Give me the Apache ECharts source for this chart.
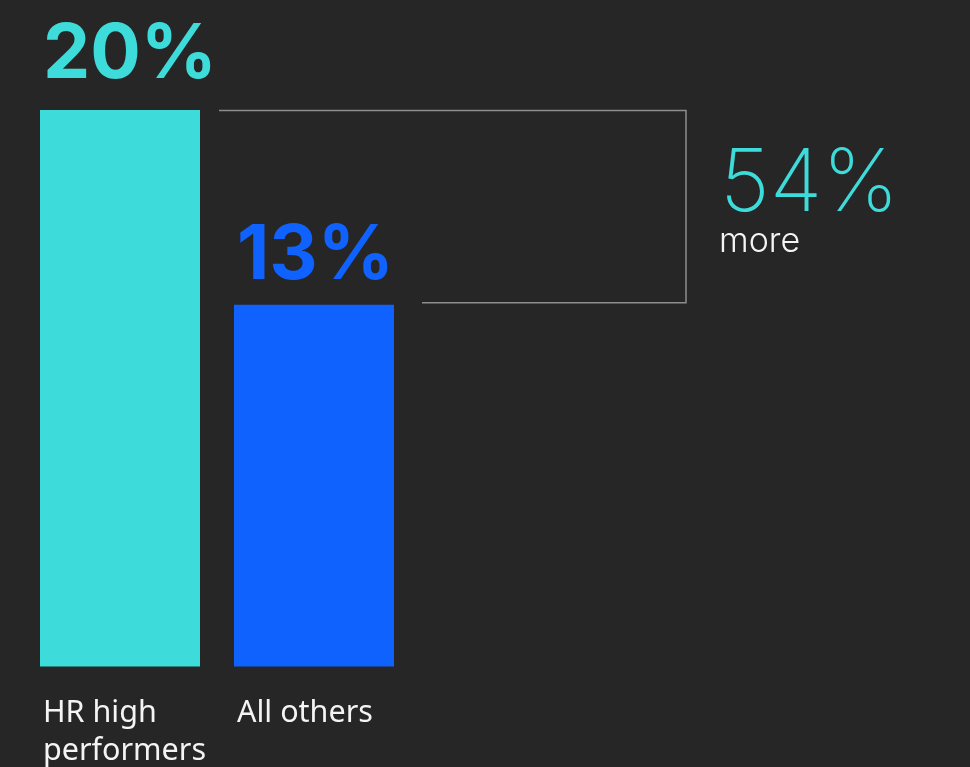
<!DOCTYPE html>
<html style="height: 100%">
  <head>
    <meta charset="utf-8">
  </head>
  <body style="height: 100%; margin: 0; background: #262626">
    <div id="container" style="height: 767px; width: 970px"></div>
    <script type="text/javascript" src="https://cdn.jsdelivr.net/npm/echarts/dist/echarts.min.js"></script>
    <script type="text/javascript">
var categories = ['HR high\nperformers', 'All others'];
var shares = [20, 13];
var barColors = ['#3ddbd9', '#0f62fe'];

var dom = document.getElementById('container');
var myChart = echarts.init(dom);

// how much more, from the two shares
var morePct = Math.round((shares[0] / shares[1] - 1) * 100);

var option = {
    backgroundColor: '#262626',
    animation: false,
    grid: {
        top: 110,
        bottom: 96,
        left: 23,
        width: 388
    },
    xAxis: {
        type: 'category',
        data: categories,
        axisLine: {show: false},
        axisTick: {show: false},
        axisLabel: {
            margin: 28,
            align: 'center',
            formatter: function (v) {
                return v.split('\n').map(function (s) { return '{a|' + s + '}'; }).join('\n');
            },
            rich: {
                a: {
                    width: 160,
                    align: 'left',
                    padding: [0, 0, 0, 6],
                    color: '#f4f4f4',
                    fontFamily: 'Noto Sans',
                    fontSize: 30.5,
                    lineHeight: 38
                }
            }
        }
    },
    yAxis: {
        type: 'value',
        min: 0,
        max: 20,
        show: false
    },
    series: [{
        type: 'bar',
        barWidth: 160,
        data: shares.map(function (v, i) {
            return {
                value: v,
                itemStyle: {color: barColors[i]},
                label: {color: barColors[i], distance: i === 0 ? 17 : 11}
            };
        }),
        label: {
            show: true,
            position: 'top',
            align: 'left',
            offset: [-77, 0],
            fontFamily: 'Inter',
            fontWeight: 'bold',
            fontSize: 75,
            formatter: '{c}%'
        }
    }]
};

myChart.setOption(option, true);

// bracket between the two bar tops
var p1 = myChart.convertToPixel({seriesIndex: 0}, [0, shares[0]]);
var p2 = myChart.convertToPixel({seriesIndex: 0}, [1, shares[1]]);
var xr = 686;
myChart.setOption({
    graphic: [
        {
            type: 'polyline',
            shape: {points: [[p1[0] + 99, p1[1] + 0.5], [xr, p1[1] + 0.5], [xr, p2[1] - 2], [p2[0] + 108, p2[1] - 2]]},
            style: {stroke: '#8d8d8d', lineWidth: 1.5, fill: null}
        },
        {
            type: 'text',
            x: xr + 34,
            y: 142,
            style: {
                text: morePct + '%',
                fill: '#3ddbd9',
                font: '200 86px Inter',
                letterSpacing: 3
            }
        },
        {
            type: 'text',
            x: xr + 33,
            y: 225,
            style: {
                text: 'more',
                fill: '#f4f4f4',
                font: '300 34px Inter'
            }
        }
    ]
});
    </script>
  </body>
</html>
